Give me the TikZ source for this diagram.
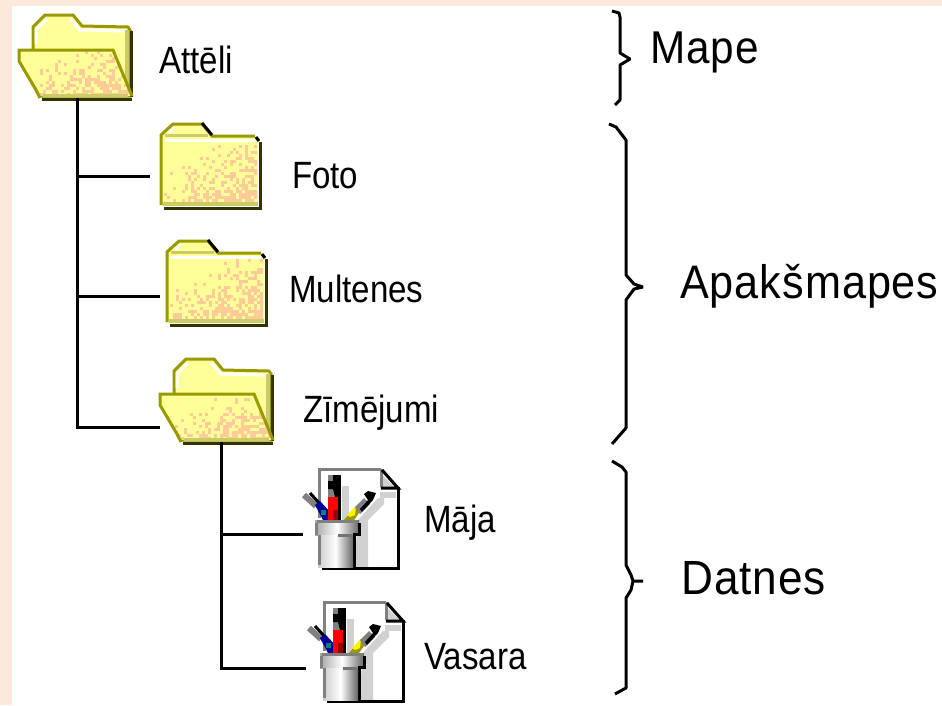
\documentclass[tikz,border=0pt]{standalone}
\usepackage{fontspec}
\usepackage{tikz}
\newfontfamily\smallfont[FakeStretch=0.87]{Liberation Sans}
\newfontfamily\bigfont[FakeStretch=0.92,LetterSpace=2]{Liberation Sans}
\definecolor{pagebg}{HTML}{FDE9DC}
\definecolor{folderline}{HTML}{999900}
\definecolor{folderfill}{HTML}{FFFF99}
\definecolor{folderdots}{HTML}{FFCC99}
\definecolor{foldermid}{HTML}{CCCC66}
\definecolor{folderdark}{HTML}{333300}
\tikzstyle{treeline}=[line width=3pt, black]
\tikzstyle{curly}=[line width=3pt, black, line join=bevel]
\tikzstyle{filelabel}=[anchor=base west, inner sep=0pt, font=\smallfont\fontsize{38}{38}\selectfont]
\tikzstyle{grouplabel}=[anchor=base west, inner sep=0pt, font=\bigfont\fontsize{48}{48}\selectfont]
\tikzstyle{folderedge}=[line width=3pt, folderline, line join=miter]
% peach pixels, thicker towards the lower right corner
\newcommand{\peachdots}[4]{
  \foreach \i in {#1,\the\numexpr#1+3\relax,...,#3} \foreach \j in {#2,\the\numexpr#2+3\relax,...,#4} {
    \pgfmathsetmacro{\dotp}{((\i-#1)/(#3-#1)+(\j-#2)/(#4-#2)-0.5)*0.62}
    \pgfmathsetmacro{\dotr}{rnd}
    \ifdim\dotr pt<\dotp pt \fill[folderdots] (\i,\j) rectangle ++(3,3); \fi
  }
}
\newcommand{\folderbrace}[1]{\draw[curly] plot coordinates {#1};}
\tikzset{
  openfolder/.pic={
    \coordinate (-stem) at (59,84);
    \path[fill=folderfill, draw=folderline, line width=3pt] (15,36) -- (15,13) -- (27,1) -- (55,1) -- (64,12) -- (110,13) -- (112,16) -- (112,82) -- (22,82) -- cycle;
    \draw[line width=3pt, folderdark] (113,17) -- (113,83);
    \draw[line width=3pt, white] (18,30) -- (18,16) -- (29,5);
    \draw[line width=3pt, white] (52,5) -- (62,16) -- (108,17);
    \fill[foldermid] (107,16) rectangle (111,80);
    \fill[folderfill, draw=none] (1,36) -- (95,36) -- (112,80) -- (112,82) -- (22,82) -- (17,76) -- (1,48) -- cycle;
    \begin{scope}
      \clip (1,36) -- (95,36) -- (112,80) -- (22,82) -- (1,48) -- cycle;
      \peachdots{1}{37}{112}{82}
    \end{scope}
    \draw[line width=3pt, foldermid] (25,81) -- (110,81);
    \draw[folderedge] (22,84) -- (18,76) -- (1,47) -- (1,36) -- (95,36) -- (114,82);
    \draw[line width=3pt, folderdark] (24,85) -- (114,85);
  },
  shutfolder/.pic={
    \path[fill=folderfill] (1,13) -- (13,1) -- (42,1) -- (52,13) -- (95,14) -- (98,18) -- (98,84) -- (1,84) -- cycle;
    \begin{scope}
      \clip (1,20) rectangle (98,83);
      \peachdots{4}{20}{96}{81}
    \end{scope}
    \fill[white] (5,17) rectangle (95,20);
    \fill[foldermid] (5,12) rectangle (48,15);
    \fill[white] (7,9) -- (14,5) -- (16,5) -- (10,12) -- cycle;
    \fill[foldermid] (3,80) rectangle (98,84);
    \draw[folderedge] (1,83) -- (1,13) -- (13,2) -- (42,2) -- (52,14) -- (95,14);
    \draw[line width=3pt, black] (42,1) -- (52,13);
    \draw[line width=3pt, folderdark] (100,20) -- (100,86) -- (4,86);
    \draw[line width=3pt, black] (96,15) -- (99,19);
  },
  paintfile/.pic={
    \fill[white] (1,1) -- (63,1) -- (81,20) -- (81,100) -- (1,100) -- cycle;
    \fill[black!18] (24,18) rectangle (31,52);
    \fill[black!18] (40,52) -- (60,30) -- (66,30) -- (66,36) -- (50,52) -- (50,100) -- (36,100) -- cycle;
    \fill[black!18] (62,24) -- (78,24) -- (78,30) -- (62,30) -- cycle;
    \draw[line width=3pt, black!50] (1,50) -- (1,1.5) -- (63,1.5);
    \fill[black!18] (62,5) -- (62,20) -- (78,20) -- cycle;
    \draw[line width=3pt, black!50] (63,1) -- (63,19);
    \draw[line width=3pt, black] (64,2) -- (80,20) -- (63,20);
    \draw[line width=3pt, black] (80,19) -- (80,100) -- (4,100);
    % the three brushes
    \draw[line width=6pt, black!50] (-14,27) -- (-2,38);
    \draw[line width=3pt, black] (-8,25) -- (2,36);
    \fill[blue!60!black] (-3,37) -- (2,33) -- (14,46) -- (14,52) -- (5,52) -- cycle;
    \fill[teal] (3,42) rectangle (8,47);
    \fill[black!50] (10,7) rectangle (22,30);
    \fill[black] (10,13) -- (22,13) -- (22,29) -- (17,29) -- (15,21) -- (10,21) -- cycle;
    \fill[black] (15,7) rectangle (22,13);
    \fill[red] (10,29) rectangle (20,52);
    \fill[red!60!black] (15,42) rectangle (20,52);
    \fill[black] (20,7) rectangle (23,52);
    \fill[folderline] (26,52) -- (38,38) -- (41,45) -- (36,52) -- cycle;
    \fill[yellow] (29,47) -- (38,38) -- (37,47) -- (32,49) -- cycle;
    \fill[black!50] (37,39) -- (46,30) -- (52,36) -- (42,46) -- cycle;
    \fill[black] (46,26) -- (50,23) -- (58,25) -- (55,32) -- (44,44) -- (42,41) -- (50,32) -- cycle;
    % the pot
    \shade[left color=black!35, right color=black!60, middle color=white] (-3,52) rectangle (41,67);
    \fill[black!50] (-1,52) rectangle (40,55);
    \fill[black!50] (-3,55) rectangle (0,67);
    \draw[line width=3pt, black] (41,55) -- (41,66) -- (36,66) -- (36,100);
    \shade[left color=black!20, right color=black!60, middle color=white] (0,67) rectangle (35,99);
    \fill[black!50] (0,67) rectangle (3,97);
    \fill[black!55] (20,66) rectangle (34,69);
  }
}
\begin{document}
\begin{tikzpicture}[x=1pt,y=-1pt]
  \useasboundingbox (0,0) rectangle (942,705);
  \fill[pagebg] (0,0) rectangle (942,705);
  \fill[white] (12,6) rectangle (942,705);
  \pgfmathsetseed{4711}
  % folders and files
  \pic (atteli) at (18,14) {openfolder};
  \pic (foto) at (160,122) {shutfolder};
  \pic (multenes) at (166,239) {shutfolder};
  \pic (zimejumi) at (159,358) {openfolder};
  \pic (maja) at (318,468) {paintfile};
  \pic (vasara) at (323,601) {paintfile};
  % names
  \node [filelabel] (attelitext) at (159,73) {Attēli};
  \node [filelabel] (fototext) at (292,188) {Foto};
  \node [filelabel] (multenestext) at (289,302) {Multenes};
  \node [filelabel] (zimejumitext) at (303,422) {Zīmējumi};
  \node [filelabel] (majatext) at (424,532) {Māja};
  \node [filelabel] (vasaratext) at (424,669) {Vasara};
  \node [grouplabel, font=\bigfont\fontsize{46}{46}\selectfont] (mape) at (650,63) {Mape};
  \node [grouplabel, font=\bigfont\fontsize{47}{47}\selectfont] (apaksmapes) at (680,298) {Apakšmapes};
  \node [grouplabel] (datnes) at (681,594) {Datnes};
  % tree lines
  \coordinate (fotoend) at (150,176);
  \coordinate (multenesend) at (160,296);
  \coordinate (zimejumiend) at (160,427);
  \coordinate (majaend) at (303,534);
  \coordinate (vasaraend) at (306,668);
  \coordinate (zimejumistem) at ([xshift=3]zimejumi-stem);
  \draw[treeline] (atteli-stem) |- (fotoend);
  \draw[treeline] (atteli-stem) |- (multenesend);
  \draw[treeline] (atteli-stem) |- (zimejumiend);
  \draw[treeline] (zimejumistem) |- (majaend);
  \draw[treeline] (zimejumistem) |- (vasaraend);
  % braces
  \folderbrace{(612,11) (619,13) (620,17) (620,53) (630,59) (620,65) (620,100) (615,105)}
  \folderbrace{(609,124) (616,127) (626,140) (626,275) (634,284) (643,287) (634,289) (626,300) (626,428) (612,444)}
  \folderbrace{(612,461) (622,467) (626,472) (626,565) (631,575) (633,581) (643,581) (633,581) (631,590) (626,598) (626,688) (615,694)}
\end{tikzpicture}
\end{document}
